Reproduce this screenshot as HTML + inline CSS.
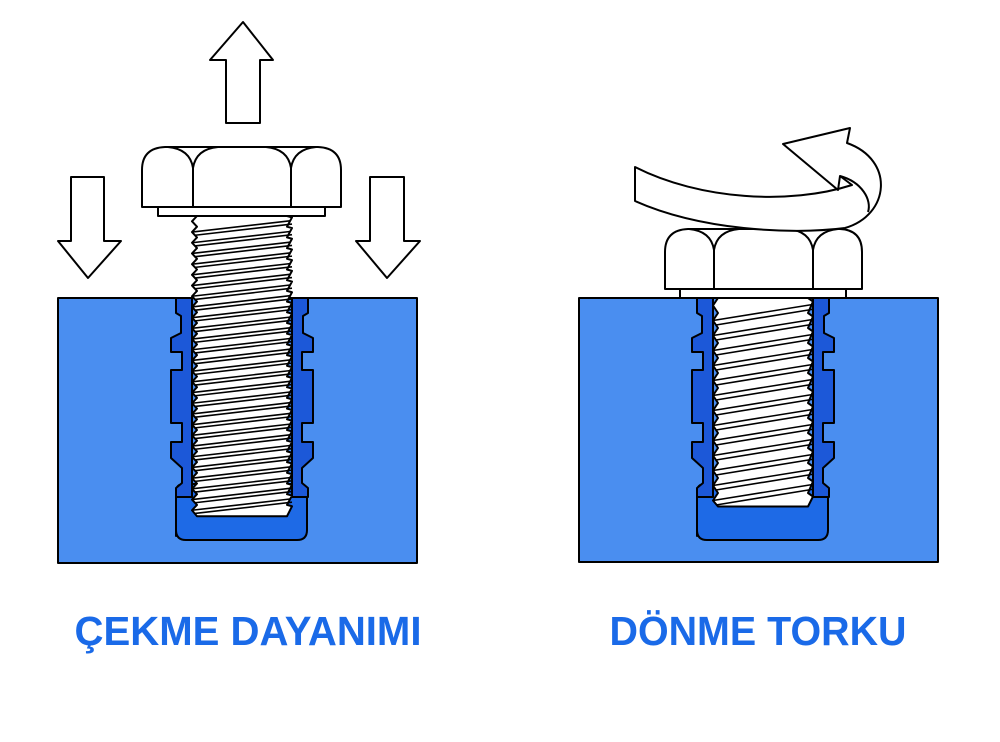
<!DOCTYPE html>
<html><head><meta charset="utf-8"><style>
html,body{margin:0;padding:0;background:#fff;width:1000px;height:742px;overflow:hidden}
svg{display:block}
</style></head><body>
<svg id="s" width="1000" height="742" viewBox="0 0 1000 742" xmlns="http://www.w3.org/2000/svg" stroke="#000" stroke-width="2" stroke-linejoin="round">
<g id="L">
<rect x="58" y="298" width="359" height="265" fill="#4a8ef0"/>
<path d="M176,536 L176,492 Q176,484 184,484 L300,484 Q307,484 307,492 L307,530 Q307,540 297,540 L186,540 Q176,540 176,530 Z" fill="#1e6ae6"/>
<path d="M176,298 L176,313 L181,316 L181,333 L171,338 L171,352 L182,352 L182,370 L171,370 L171,423 L182,423 L182,442 L171,442 L171,458 L182,468 L182,483 L176,488 L176,497 L192,497 L192,298 Z" fill="#1c58d8"/>
<path d="M308,298 L308,313 L303,316 L303,333 L313,338 L313,352 L302,352 L302,370 L313,370 L313,423 L302,423 L302,442 L313,442 L313,458 L302,468 L302,483 L308,488 L308,497 L292,497 L292,298 Z" fill="#1c58d8"/>
<g id="boltL"></g>
<path d="M142,207 L142,170 Q142,148 165,147 L318,147 Q341,148 341,170 L341,207 Z" fill="#fff"/>
<path d="M193,207 L193,168 Q190,149 168,147 M193,168 Q196,149 218,147 M291,207 L291,168 Q288,149 266,147 M291,168 Q294,149 316,147" fill="none"/>
<rect x="158" y="207" width="167" height="9" fill="#fff"/>
<path d="M226,123 L260,123 L260,60 L273,60 L243,22 L210,60 L226,60 Z" fill="#fff"/>
<path d="M71,177 L104,177 L104,241 L121,241 L88,278 L58,241 L71,241 Z" fill="#fff"/>
<path d="M370,177 L404,177 L404,241 L420,241 L387,278 L356,241 L370,241 Z" fill="#fff"/>
</g>
<g>
<rect x="579" y="298" width="359" height="264" fill="#4a8ef0"/>
<path d="M697,536 L697,492 Q697,484 705,484 L821,484 Q828,484 828,492 L828,530 Q828,540 818,540 L707,540 Q697,540 697,530 Z" fill="#1e6ae6"/>
<path d="M697,298 L697,313 L702,316 L702,333 L692,338 L692,352 L703,352 L703,370 L692,370 L692,423 L703,423 L703,442 L692,442 L692,458 L703,468 L703,483 L697,488 L697,497 L713,497 L713,298 Z" fill="#1c58d8"/>
<path d="M829,298 L829,313 L824,316 L824,333 L834,338 L834,352 L823,352 L823,370 L834,370 L834,423 L823,423 L823,442 L834,442 L834,458 L823,468 L823,483 L829,488 L829,497 L813,497 L813,298 Z" fill="#1c58d8"/>
<g id="boltR"></g>
<rect x="680" y="289" width="166" height="9" fill="#fff"/>
<path d="M665,289 L665,252 Q665,230 688,229 L840,229 Q862,230 862,252 L862,289 Z" fill="#fff"/>
<path d="M714,289 L714,250 Q711,231 689,229 M714,250 Q717,231 739,229 M813,289 L813,250 Q810,231 788,229 M813,250 Q816,231 838,229" fill="none"/>
<path d="M635,167 C700,200 790,205 852,185 L840,176 L838,190 L783,144 L850,128 L847,143 C895,160 890,215 845,228 C790,235 700,230 635,201 Z" fill="#fff"/>
<path d="M840,176 C862,182 872,200 868,212" fill="none"/>
</g>
<text x="248" y="645" text-anchor="middle" font-family="Liberation Sans, sans-serif" font-weight="bold" font-size="41" fill="#1a6ae8" stroke="none" textLength="347" lengthAdjust="spacingAndGlyphs">ÇEKME DAYANIMI</text>
<text x="758" y="645" text-anchor="middle" font-family="Liberation Sans, sans-serif" font-weight="bold" font-size="41" fill="#1a6ae8" stroke="none" textLength="297" lengthAdjust="spacingAndGlyphs">DÖNME TORKU</text>
</svg>
<script>
function bolt(id,xl,xr,y0,y1,p){
  var g=document.getElementById(id),ns="http://www.w3.org/2000/svg";
  var pts=[],n=Math.floor((y1-y0)/p);
  for(var i=0;i<=n;i++){var y=y0+i*p;pts.push((xl+5)+","+y);pts.push(xl+","+(y+p/2));}
  var yb=y0+n*p+p/2;
  pts.push((xl+5)+","+(yb+6));pts.push((xr-5)+","+(yb+6));
  for(var i=n;i>=0;i--){var y=y0+i*p;pts.push(xr+","+(y+p/2-4));pts.push((xr-5)+","+y);}
  var poly=document.createElementNS(ns,"polygon");
  poly.setAttribute("points",pts.join(" "));poly.setAttribute("fill","#fff");g.appendChild(poly);
  var d="",dr=p*1.05;
  for(var i=1;i<=n;i++){var y=y0+i*p+p/2;
    d+="M"+xl+","+y+" L"+(xr-2)+","+(y-dr)+" ";
    d+="M"+(xl+3)+","+(y+p*0.3)+" L"+xr+","+(y-dr+p*0.3)+" ";}
  var path=document.createElementNS(ns,"path");
  path.setAttribute("d",d);path.setAttribute("fill","none");path.setAttribute("stroke-width","1.6");g.appendChild(path);
}
bolt("boltL",192,292,216,505,10.7);
bolt("boltR",713,813,298,505,15);
</script>
</body></html>
